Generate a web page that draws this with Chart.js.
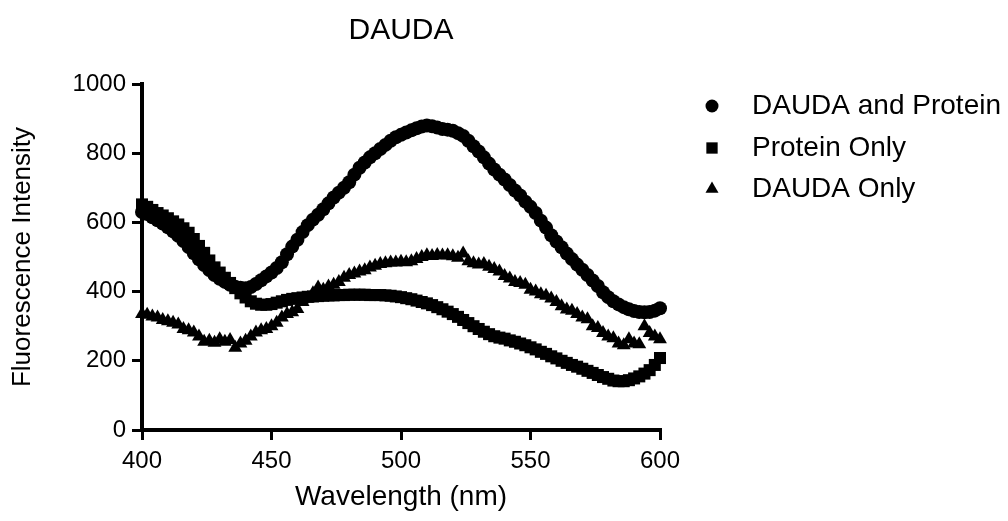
<!DOCTYPE html>
<html>
<head>
<meta charset="utf-8">
<title>DAUDA</title>
<script src="https://cdn.jsdelivr.net/npm/chart.js@4.4.1/dist/chart.umd.min.js"></script>
<style>
  body { margin: 0; background: #fff; }
</style>
</head>
<body>
<canvas id="daudaChart" width="1008" height="521"></canvas>
<script>
// wavelengths (nm), one reading every 2 nm
const wavelengths = [
  400, 402, 404, 406, 408, 410, 412, 414, 416, 418,
  420, 422, 424, 426, 428, 430, 432, 434, 436, 438,
  440, 442, 444, 446, 448, 450, 452, 454, 456, 458,
  460, 462, 464, 466, 468, 470, 472, 474, 476, 478,
  480, 482, 484, 486, 488, 490, 492, 494, 496, 498,
  500, 502, 504, 506, 508, 510, 512, 514, 516, 518,
  520, 522, 524, 526, 528, 530, 532, 534, 536, 538,
  540, 542, 544, 546, 548, 550, 552, 554, 556, 558,
  560, 562, 564, 566, 568, 570, 572, 574, 576, 578,
  580, 582, 584, 586, 588, 590, 592, 594, 596, 598,
  600
];

const daudaAndProtein = [
  630, 624, 615, 606, 597, 586, 574, 561, 546, 529,
  511, 493, 477, 462, 448, 437, 428, 420, 414, 411,
  410, 413, 422, 433, 444, 455, 468, 485, 508, 530,
  550, 572, 592, 608, 622, 638, 655, 672, 686, 700,
  716, 738, 758, 773, 788, 800, 812, 824, 836, 846,
  853, 860, 866, 872, 877, 880, 878, 874, 870, 868,
  865, 858, 850, 836, 820, 805, 788, 770, 753, 738,
  724, 708, 692, 678, 660, 645, 627, 605, 585, 563,
  545, 528, 510, 494, 478, 463, 448, 432, 416, 398,
  384, 372, 363, 355, 349, 344, 341, 340, 341, 345,
  352
];

const proteinOnly = [
  652, 645, 636, 627, 620, 612, 603, 594, 583, 570,
  552, 532, 512, 490, 470, 455, 440, 425, 410, 395,
  383, 372, 365, 362, 362, 364, 368, 372, 376, 379,
  381, 383, 385, 386, 387, 388, 389, 389, 390, 390,
  391, 391, 391, 391, 390, 390, 390, 389, 388, 386,
  384, 381, 378, 374, 370, 366, 361, 355, 349, 342,
  335, 327, 318, 309, 300, 292, 284, 277, 271, 267,
  264, 259, 255, 250, 245, 239, 233, 226, 220, 213,
  207, 200, 194, 188, 183, 177, 171, 165, 159, 153,
  148, 143, 141, 141, 144, 149, 155, 163, 173, 188,
  208
];

const daudaOnly = [
  335, 333, 328, 325, 318, 314, 310, 305, 292, 288,
  282, 270, 255, 258, 252, 262, 255, 260, 238, 250,
  258, 270, 282, 288, 292, 300, 310, 325, 335, 340,
  350, 370, 380, 395, 412, 405, 415, 420, 428, 440,
  448, 452, 458, 462, 470, 475, 480, 482, 484, 484,
  486, 485, 488, 494, 500, 505, 503, 506, 504, 505,
  502, 498, 510, 488, 482, 478, 480, 472, 465, 458,
  445, 438, 428, 425, 420, 405, 400, 392, 388, 380,
  370, 358, 348, 345, 335, 325, 320, 300, 295, 280,
  270, 265, 250, 245, 262, 250, 248, 300, 280, 270,
  262
];

const yTicks = [0, 200, 400, 600, 800, 1000];
const xTicks = [400, 450, 500, 550, 600];

const FONT = '"Liberation Sans", Arial, sans-serif';
Chart.defaults.font.family = FONT;
Chart.defaults.color = '#000';

function toPoints(values) {
  return wavelengths.map((w, i) => ({ x: w, y: values[i] }));
}

// legend drawn at the right of the plot, one row per dataset
const sideLegend = {
  id: 'sideLegend',
  afterDraw(chart) {
    const ctx = chart.ctx;
    const rows = [106, 148, 189];
    ctx.save();
    ctx.fillStyle = '#000';
    ctx.font = '28px ' + FONT;
    ctx.textBaseline = 'middle';
    ctx.textAlign = 'left';
    chart.data.datasets.forEach((ds, i) => {
      Chart.helpers.drawPoint(ctx, {
        pointStyle: ds.pointStyle,
        radius: ds.legendRadius,
        rotation: 0,
        borderWidth: 0
      }, 712, rows[i]);
      ctx.fillText(ds.label, 752, rows[i]);
    });
    ctx.restore();
  }
};

new Chart(document.getElementById('daudaChart'), {
  type: 'scatter',
  data: {
    datasets: [
      {
        label: 'DAUDA and Protein',
        data: toPoints(daudaAndProtein),
        pointStyle: 'circle',
        pointRadius: 7,
        legendRadius: 6.5,
        backgroundColor: '#000',
        borderColor: '#000',
        borderWidth: 0,
        clip: false
      },
      {
        label: 'Protein Only',
        data: toPoints(proteinOnly),
        pointStyle: 'rect',
        pointRadius: 8.5,
        legendRadius: 8,
        backgroundColor: '#000',
        borderColor: '#000',
        borderWidth: 0,
        clip: false
      },
      {
        label: 'DAUDA Only',
        data: toPoints(daudaOnly),
        pointStyle: 'triangle',
        pointRadius: 8,
        legendRadius: 7.5,
        backgroundColor: '#000',
        borderColor: '#000',
        borderWidth: 0,
        clip: false
      }
    ]
  },
  options: {
    responsive: false,
    animation: false,
    devicePixelRatio: 1,
    layout: {
      padding: { left: 0, right: 348, top: 0, bottom: 0 }
    },
    scales: {
      x: {
        type: 'linear',
        min: 400,
        max: 600,
        afterBuildTicks: scale => { scale.ticks = xTicks.map(v => ({ value: v })); },
        afterFit: scale => { scale.height = 91; },
        border: { color: '#000', width: 4 },
        grid: { drawOnChartArea: false, color: '#000', lineWidth: 3, tickLength: 10 },
        ticks: { font: { size: 24 }, padding: 7, maxRotation: 0, callback: v => String(v) },
        title: {
          display: true,
          text: 'Wavelength (nm)',
          font: { size: 28 },
          padding: { top: 0, bottom: 7 }
        }
      },
      y: {
        type: 'linear',
        min: 0,
        max: 1000,
        afterBuildTicks: scale => { scale.ticks = yTicks.map(v => ({ value: v })); },
        afterFit: scale => { scale.width = 142; },
        border: { color: '#000', width: 4 },
        grid: { drawOnChartArea: false, color: '#000', lineWidth: 3, tickLength: 10 },
        ticks: { font: { size: 24 }, padding: 6, callback: v => String(v) },
        title: {
          display: true,
          text: 'Fluorescence Intensity',
          font: { size: 26 },
          padding: { top: 7, bottom: 0 }
        }
      }
    },
    plugins: {
      legend: { display: false },
      tooltip: { enabled: false },
      title: {
        display: true,
        text: 'DAUDA',
        fullSize: false,
        font: { size: 30, weight: 'normal' },
        padding: { top: 13, bottom: 35 }
      }
    }
  },
  plugins: [sideLegend]
});
</script>
</body>
</html>
